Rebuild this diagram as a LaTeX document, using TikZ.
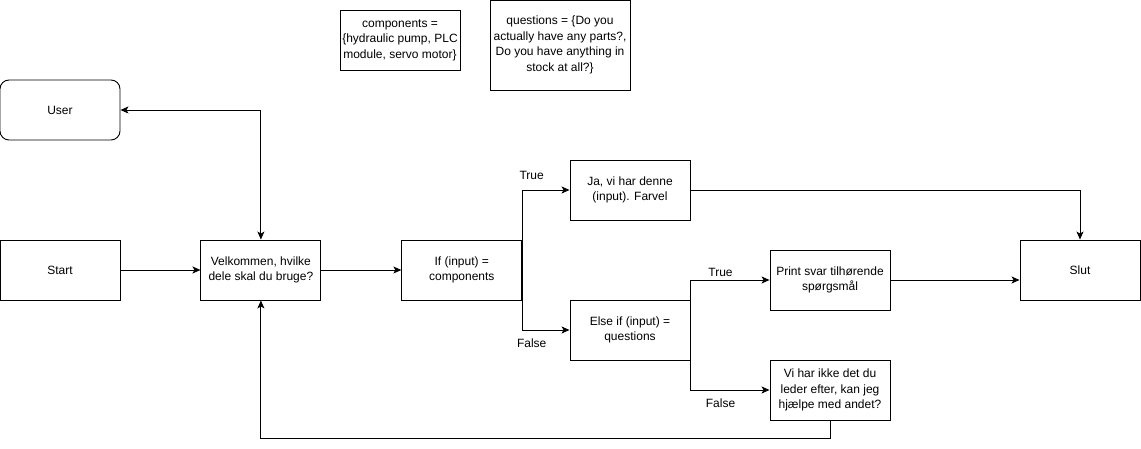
\documentclass[tikz,border=0pt]{standalone}
\usepackage{fontspec}
\setmainfont{Liberation Sans}
\usetikzlibrary{arrows.meta,positioning}

\begin{document}
\begin{tikzpicture}[
        x=1pt, y=-1pt,
        node distance=80pt,
        box/.style={rectangle, draw, line width=0.9pt,
                    minimum width=120pt, minimum height=60pt,
                    align=center, inner sep=1pt,
                    font=\fontsize{12}{15.5}\selectfont},
        lbl/.style={font=\fontsize{12}{15}\selectfont},
        arr/.style={-{Stealth[length=8pt,width=7pt,inset=2pt]}, line width=0.9pt},
        biarr/.style={{Stealth[length=8pt,width=7pt,inset=2pt]}-{Stealth[length=8pt,width=7pt,inset=2pt]}, line width=0.9pt}
      ]
      \useasboundingbox (0,0) rectangle (1141,449);
      \node[box] (start) at (60,270) {Start};
      \node[box, rounded corners=9pt] (user) at (60,110) {User};
      \node[box, right=of start] (velkommen) {Velkommen, hvilke\\dele skal du bruge?};
      \node[box, right=of velkommen] (ifcomp) {If (input) =\\components};
      \node[box] (ja) at (630,190) {Ja, vi har denne\\(input). Farvel};
      \node[box] (elseif) at (630,330) {Else if (input) =\\questions};
      \node[box] (svar) at (830,280) {Print svar tilhørende\\spørgsmål};
      \node[box] (ikke) at (830,390) {Vi har ikke det du\\leder efter, kan jeg\\hjælpe med andet?};
      \node[box] (slut) at (1080,270) {Slut};
      \node[box] (components) at (400,40) {components =\\\{hydraulic pump, PLC\\module, servo motor\}};
      \node[box, minimum width=140pt, minimum height=90pt] (questions) at (560,45)
        {questions = \{Do you\\actually have any parts?,\\Do you have anything in\\stock at all?\}};

      \draw[arr] (start) -- (velkommen);
      \draw[biarr] (user.east) -| (velkommen.north);
      \draw[arr] (velkommen) -- (ifcomp);
      \draw[arr] (ifcomp.east) |- node[lbl, pos=0.6, above, yshift=7pt] {True} (ja.west);
      \draw[arr] (ifcomp.east) |- node[lbl, pos=0.6, below, yshift=-5pt] {False} (elseif.west);
      \draw[arr] (ja.east) -| (slut.north);
      \draw[arr] (elseif.east) |- node[lbl, pos=0.69, above] {True} (svar.west);
      \draw[arr] (elseif.east) |- node[lbl, pos=0.69, below, yshift=-5pt] {False} (ikke.west);
      \draw[arr] (svar.east) -- (svar.east -| slut.west);
      \draw[arr] (ikke.south) -- ++(0,18) -| (velkommen.south);
    \end{tikzpicture}
\end{document}
